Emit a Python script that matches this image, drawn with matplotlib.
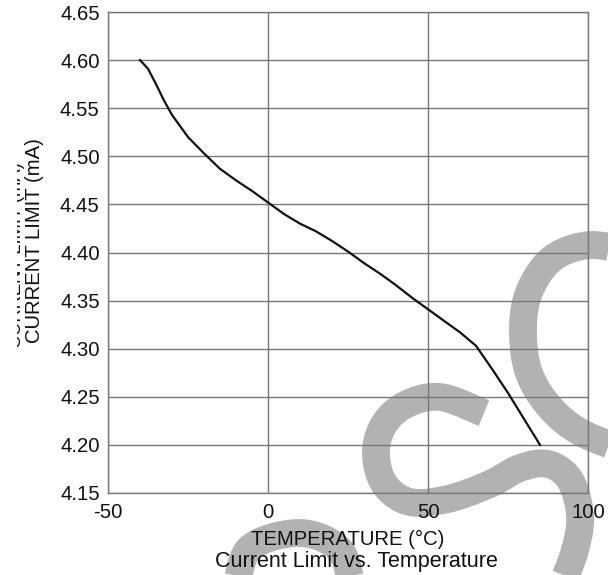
import numpy as np
import matplotlib
matplotlib.use("Agg")
import matplotlib.pyplot as plt
from matplotlib.lines import Line2D
from matplotlib.patches import Rectangle

# data
temp = [-40, -37.5, -35, -32.5, -30, -25, -20, -15, -10, -5, 0, 5, 10, 15,
        20, 25, 30, 35, 40, 45, 50, 55, 60, 65, 70, 75, 80, 85]
current = [4.600, 4.591, 4.575, 4.558, 4.543, 4.520, 4.503, 4.487, 4.475,
           4.464, 4.452, 4.440, 4.430, 4.422, 4.412, 4.401, 4.389, 4.378,
           4.366, 4.353, 4.341, 4.329, 4.317, 4.303, 4.279, 4.254, 4.227, 4.200]
x_ticks = [-50, 0, 50, 100]
y_ticks = [4.15, 4.20, 4.25, 4.30, 4.35, 4.40, 4.45, 4.50, 4.55, 4.60, 4.65]

W, H = 608, 575
plt.rcParams['font.family'] = ['Liberation Sans', 'DejaVu Sans']
plt.rcParams['axes.unicode_minus'] = False
FS = 14.6

fig = plt.figure(figsize=(W / 100, H / 100), dpi=100)
ax = fig.add_axes([108 / W, 1 - 493 / H, 480 / W, 481 / H])
ax.set_facecolor('none')


# watermark strokes (big grey "S" shapes), pixel points -> smooth line
def catmull(pts, n=30):
    p = np.array(pts, dtype=float)
    p = np.vstack([p[0], p, p[-1]])
    out = []
    for i in range(1, len(p) - 2):
        p0, p1, p2, p3 = p[i - 1], p[i], p[i + 1], p[i + 2]
        t = np.linspace(0, 1, n)[:, None]
        out.append(0.5 * ((2 * p1) + (-p0 + p2) * t
                          + (2 * p0 - 5 * p1 + 4 * p2 - p3) * t ** 2
                          + (-p0 + 3 * p1 - 3 * p2 + p3) * t ** 3))
    return np.vstack(out)


strokes = [
    [(630, 252), (590, 245), (553, 258), (530, 290), (523, 327), (528, 370),
     (548, 405), (580, 432), (630, 452)],
    [(484, 413), (440, 397), (405, 405), (383, 426), (376, 455), (385, 485),
     (410, 502), (448, 499), (490, 484), (520, 468), (548, 464), (570, 480),
     (580, 515), (575, 550), (560, 590)],
    [(236, 590), (250, 548), (300, 533), (340, 550), (352, 590)],
]
for s in strokes:
    c = catmull(s)
    fig.add_artist(Line2D(c[:, 0] / W, 1 - c[:, 1] / H, transform=fig.transFigure,
                          color='#b2b2b2', lw=20, solid_capstyle='butt', zorder=-1))

ax.plot(temp, current, color='#111111', lw=1.6, zorder=3)

ax.set_xlim(-50, 100)
ax.set_ylim(4.15, 4.65)
ax.set_xticks(x_ticks)
ax.set_yticks(y_ticks)
ax.set_yticklabels([f"{v:.2f}" for v in y_ticks])
ax.tick_params(length=0, labelsize=FS, colors='#111111')
ax.tick_params(axis='x', pad=7)
ax.tick_params(axis='y', pad=6)
ax.grid(True, color='#777777', lw=1.0)
for sp in ax.spines.values():
    sp.set_color('#777777')
    sp.set_linewidth(1.0)

fig.text(348 / W, 1 - 539 / H, "TEMPERATURE (°C)", ha='center', va='center',
         fontsize=FS, color='#111111')
fig.text(356 / W, 1 - 561 / H, "Current Limit vs. Temperature", ha='center',
         va='center', fontsize=15.5, color='#111111')
fig.text(44 / W, 1 - 241 / H, "CURRENT LIMIT (mA)", rotation=90, ha='right',
         va='center', fontsize=FS, color='#111111')

# half hidden copy of the y label at the left edge
ghost = fig.text(25 / W, 1 - 255 / H, "CURRENT LIMIT (mA)", rotation=90,
                 ha='right', va='center', fontsize=13.2, color='#111111')
clip = Rectangle((17, 0), 40, H, transform=None)
ghost.set_clip_path(clip)

fig.savefig("out.png", dpi=100)
